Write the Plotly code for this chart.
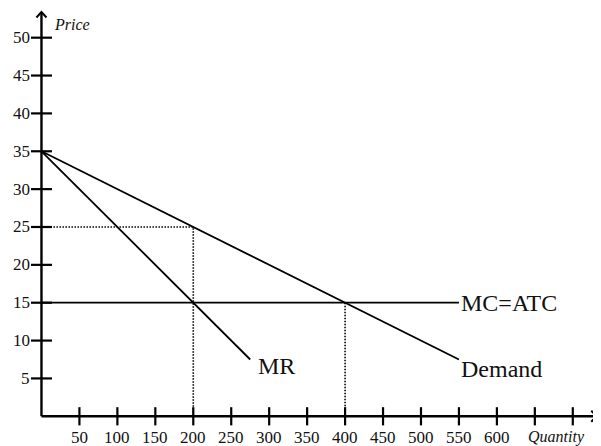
import plotly.graph_objects as go

# ---- data ----
quantity_ticks = [50, 100, 150, 200, 250, 300, 350, 400, 450, 500, 550, 600, 650, 700]
quantity_labels = ["50", "100", "150", "200", "250", "300", "350", "400", "450", "500", "550", "600", "", ""]
price_ticks = [5, 10, 15, 20, 25, 30, 35, 40, 45, 50]
price_labels = ["5", "10", "15", "20", "25", "30", "35", "40", "45", "50"]

demand_q = [0, 550]
demand_p = [35, 7.5]
mr_q = [0, 275]
mr_p = [35, 7.5]
mc_q = [0, 550]
mc_p = [15, 15]

monopoly_q = 200
monopoly_p = 25
competitive_q = 400
competitive_p = 15

x_axis_end = 731.5
y_axis_end = 53.4

FONT = "Liberation Serif"
fig = go.Figure()

line_style = dict(color="black", width=1.8)
dot_style = dict(color="black", width=1.6, dash="1.5px,1.5px")

# dotted guides
fig.add_trace(go.Scatter(x=[0, monopoly_q, monopoly_q], y=[monopoly_p, monopoly_p, 0],
                         mode="lines", line=dot_style, hoverinfo="skip"))
fig.add_trace(go.Scatter(x=[competitive_q, competitive_q], y=[competitive_p, 0],
                         mode="lines", line=dot_style, hoverinfo="skip"))

# curves
fig.add_trace(go.Scatter(x=demand_q, y=demand_p, mode="lines", line=line_style, name="Demand"))
fig.add_trace(go.Scatter(x=mr_q, y=mr_p, mode="lines", line=line_style, name="MR"))
fig.add_trace(go.Scatter(x=mc_q, y=mc_p, mode="lines", line=line_style, name="MC=ATC"))

# axes lines
axis_line = dict(color="black", width=2.4)
fig.add_shape(type="line", x0=0, y0=0, x1=x_axis_end, y1=0, xref="x", yref="y", line=axis_line)
fig.add_shape(type="line", x0=0, y0=0, x1=0, y1=y_axis_end, xref="x", yref="y", line=axis_line)
# arrow heads (open chevrons)
fig.add_shape(type="path", xref="x", yref="y",
              path=f"M {-6.6},{y_axis_end-0.73} L 0,{y_axis_end} L {6.6},{y_axis_end-0.73}",
              line=dict(color="black", width=2))
fig.add_shape(type="path", xref="x", yref="y",
              path=f"M {x_axis_end-7.2},0.73 L {x_axis_end},0 L {x_axis_end-7.2},-0.73",
              line=dict(color="black", width=2))

# tick marks
fig.add_trace(go.Scatter(x=quantity_ticks, y=[0] * len(quantity_ticks), mode="markers",
                         marker=dict(symbol="line-ns-open", size=13, color="black",
                                     line=dict(color="black", width=2.2)),
                         hoverinfo="skip"))
fig.add_trace(go.Scatter(x=[0] * len(price_ticks), y=price_ticks, mode="markers",
                         marker=dict(symbol="line-ew-open", size=15, color="black",
                                     line=dict(color="black", width=2.2)),
                         hoverinfo="skip"))

# tick labels
tick_font = dict(family=FONT, size=17, color="#111")
for q, lab in zip(quantity_ticks, quantity_labels):
    if lab:
        fig.add_annotation(x=q, y=-2.85, text=lab, showarrow=False, xanchor="center", yanchor="middle",
                           font=tick_font, borderpad=0)
for p, lab in zip(price_ticks, price_labels):
    fig.add_annotation(x=-14.2, y=p, text=lab, showarrow=False, xanchor="right", yanchor="middle",
                       font=tick_font, borderpad=0)

# curve labels
lab_font = dict(family=FONT, size=24, color="#111")
fig.add_annotation(x=mr_q[-1] + 7, y=6.6, text="MR", showarrow=False, xanchor="left", yanchor="middle", font=lab_font)
fig.add_annotation(x=demand_q[-1], y=6.3, text="Demand", showarrow=False, xanchor="left", yanchor="middle", font=lab_font)
fig.add_annotation(x=mc_q[-1], y=mc_p[-1], text="MC=ATC", showarrow=False, xanchor="left", yanchor="middle", font=lab_font)

# axis titles
ax_font = dict(family=FONT, size=16, color="#111")
fig.add_annotation(x=13.8, y=51.8, text="<i>Price</i>", showarrow=False, xanchor="left", yanchor="middle", font=ax_font)
fig.add_annotation(x=640, y=-2.75, text="<i>Quantity</i>", showarrow=False, xanchor="left", yanchor="middle",
                   font=ax_font, borderpad=0)

# page has an 8px body margin, so the plot ranges are offset to compensate
fig.update_layout(
    width=601, height=446,
    margin=dict(l=0, r=0, t=0, b=0),
    paper_bgcolor="white", plot_bgcolor="white",
    showlegend=False,
    xaxis=dict(range=[-44.1, 747.7], visible=False, fixedrange=True),
    yaxis=dict(range=[-4.98, 53.92], visible=False, fixedrange=True),
)

fig.write_html("out.html")
